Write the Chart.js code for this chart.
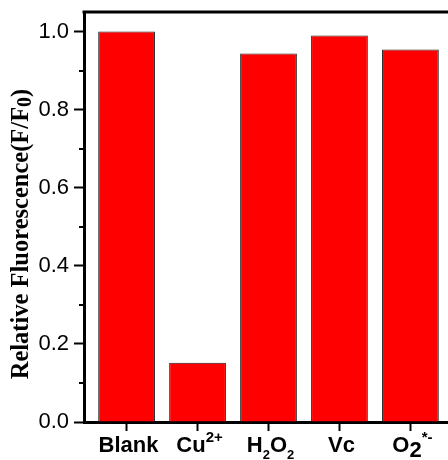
<!DOCTYPE html>
<html>
<head>
<meta charset="utf-8">
<script src="https://cdn.jsdelivr.net/npm/chart.js@4.4.0/dist/chart.umd.min.js"></script>
<style>
    html, body { margin: 0; padding: 0; background: #fff; overflow: hidden; }
    #wrap { width: 448px; height: 460px; overflow: hidden; }
</style>
</head>
<body>
<div id="wrap"><canvas id="chart" width="456" height="460"></canvas></div>
<script>
const categories = ['Blank', 'Cu2+', 'H2O2', 'Vc', 'O2*-'];
const values = [1.0, 0.152, 0.944, 0.990, 0.954];
const yTicks = [0.0, 0.2, 0.4, 0.6, 0.8, 1.0];
const yMinorTicks = [0.1, 0.3, 0.5, 0.7, 0.9];

// label pieces: t = text, k = n(ormal) / sup / sub / big (full-size, lowered)
const labelParts = {
    'Blank': [{ t: 'Blank', k: 'n' }],
    'Cu2+': [{ t: 'Cu', k: 'n' }, { t: '2+', k: 'sup' }],
    'H2O2': [{ t: 'H', k: 'n' }, { t: '2', k: 'sub' }, { t: 'O', k: 'n' }, { t: '2', k: 'sub' }],
    'Vc': [{ t: 'Vc', k: 'n' }],
    'O2*-': [{ t: 'O', k: 'n' }, { t: '2', k: 'big' }, { t: '*-', k: 'sup' }]
};

const fonts = {
    n: 'bold 22px "Liberation Sans", Arial, sans-serif',
    big: 'bold 22px "Liberation Sans", Arial, sans-serif',
    sup: 'bold 15px "Liberation Sans", Arial, sans-serif',
    sub: 'bold 13px "Liberation Sans", Arial, sans-serif'
};
const shifts = { n: 0, big: 5, sup: -10, sub: 7 };

const framePlugin = {
    id: 'frame',
    afterDraw(chart) {
        const ctx = chart.ctx;
        const area = chart.chartArea;
        const y = chart.scales.y;
        const x = chart.scales.x;
        ctx.save();

        // top and right frame lines
        ctx.strokeStyle = '#000';
        ctx.lineWidth = 3;
        ctx.beginPath();
        ctx.moveTo(area.left - 1.5, area.top);
        ctx.lineTo(area.right, area.top);
        ctx.lineTo(area.right, area.bottom);
        ctx.stroke();

        // minor ticks on the y axis
        ctx.lineWidth = 2;
        yMinorTicks.forEach(v => {
            const py = Math.round(y.getPixelForValue(v));
            ctx.beginPath();
            ctx.moveTo(area.left - 5, py);
            ctx.lineTo(area.left, py);
            ctx.stroke();
        });

        // x category labels with sub/superscripts
        ctx.fillStyle = '#000';
        ctx.textBaseline = 'alphabetic';
        ctx.textAlign = 'left';
        const baseline = 452;
        categories.forEach((c, i) => {
            const parts = labelParts[c];
            let total = 0;
            parts.forEach(p => { ctx.font = fonts[p.k]; total += ctx.measureText(p.t).width; });
            let px = x.getPixelForValue(i) - total / 2 + 2;
            parts.forEach(p => {
                ctx.font = fonts[p.k];
                ctx.fillText(p.t, px, baseline + shifts[p.k]);
                px += ctx.measureText(p.t).width;
            });
        });

        // y axis title
        ctx.translate(22, 234);
        ctx.rotate(-Math.PI / 2);
        const titleFont = 'bold 24.5px "Liberation Serif", "Times New Roman", serif';
        const subFont = 'bold 20px "Liberation Serif", "Times New Roman", serif';
        const pieces = [
            { t: 'Relative Fluorescence(F/F', f: titleFont, dy: 0 },
            { t: '0', f: subFont, dy: 4 },
            { t: ')', f: titleFont, dy: 0 }
        ];
        let w = 0;
        pieces.forEach(p => { ctx.font = p.f; w += ctx.measureText(p.t).width; });
        let tx = -w / 2;
        ctx.textBaseline = 'middle';
        pieces.forEach(p => {
            ctx.font = p.f;
            ctx.fillText(p.t, tx, p.dy);
            tx += ctx.measureText(p.t).width;
        });
        ctx.restore();
    }
};

const ctx = document.getElementById('chart').getContext('2d');
new Chart(ctx, {
    type: 'bar',
    data: {
        datasets: [{
            data: values.map((v, i) => ({ x: i, y: v })),
            backgroundColor: '#ff0000',
            borderColor: '#222222',
            borderWidth: 1,
            borderSkipped: 'start',
            barPercentage: 0.8,
            categoryPercentage: 1.0
        }]
    },
    options: {
        responsive: false,
        animation: false,
        devicePixelRatio: 1,
        layout: { padding: { top: 12, right: 3, left: 0, bottom: 0 } },
        plugins: {
            legend: { display: false },
            tooltip: { enabled: false }
        },
        scales: {
            x: {
                type: 'linear',
                offset: false,
                min: -0.6,
                max: 4.6,
                afterBuildTicks: axis => { axis.ticks = categories.map((c, i) => ({ value: i })); },
                afterFit: axis => {
                    axis.height = 38;
                    axis.paddingLeft = 0;
                    axis.paddingRight = 0;
                },
                grid: {
                    offset: false,
                    drawOnChartArea: false,
                    drawTicks: true,
                    tickLength: 9,
                    tickWidth: 2,
                    tickColor: '#000'
                },
                border: { display: true, color: '#000', width: 3 },
                ticks: { display: false }
            },
            y: {
                min: 0,
                max: 1.05,
                afterBuildTicks: axis => { axis.ticks = yTicks.map(v => ({ value: v })); },
                afterFit: axis => {
                    axis.width = 84;
                    axis.paddingTop = 0;
                    axis.paddingBottom = 0;
                },
                grid: {
                    drawOnChartArea: false,
                    drawTicks: true,
                    tickLength: 10,
                    tickWidth: 2,
                    tickColor: '#000'
                },
                border: { display: true, color: '#000', width: 3 },
                ticks: {
                    padding: 5,
                    color: '#000',
                    font: { family: '"Liberation Sans", Arial, sans-serif', size: 22 },
                    callback: v => v.toFixed(1)
                }
            }
        }
    },
    plugins: [framePlugin]
});
</script>
</body>
</html>
